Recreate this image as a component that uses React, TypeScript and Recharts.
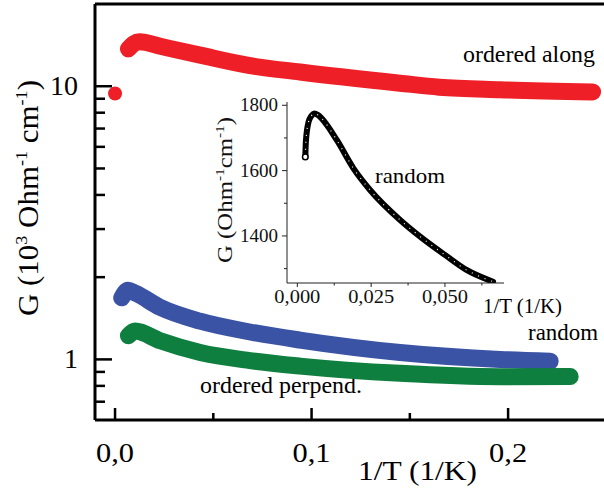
import React from 'react';
import { ComposedChart, Line, Scatter, XAxis, YAxis, ReferenceLine, Customized } from 'recharts';

// main panel: G vs 1/T, log scale
const alongX = [0.0068, 0.0095, 0.0125, 0.023, 0.0433, 0.0687, 0.0941, 0.145, 0.165, 0.196, 0.243];
const alongG = [13.7, 14.3, 14.55, 14.0, 13.0, 11.9, 11.27, 10.26, 9.92, 9.71, 9.53];
const alongFirstX = [0.0];
const alongFirstG = [9.4];

const randomX = [0.0034, 0.0066, 0.0102, 0.023, 0.0433, 0.0687, 0.0941, 0.145, 0.196, 0.2214];
const randomG = [1.68, 1.79, 1.75, 1.55, 1.38, 1.26, 1.177, 1.06, 1.0, 0.985];

const perpX = [0.0068, 0.0102, 0.023, 0.0433, 0.0687, 0.0941, 0.145, 0.196, 0.2316];
const perpG = [1.22, 1.27, 1.17, 1.06, 0.99, 0.945, 0.889, 0.864, 0.866];

const X_TICKS = [0, 0.05, 0.1, 0.15, 0.2];
const X_LABELLED = [0, 0.1, 0.2];
const Y_TICKS = [0.7, 0.8, 0.9, 1, 2, 3, 4, 5, 6, 7, 8, 9, 10];
const Y_LABELLED = [1, 10];

// inset: random sample, linear scale
const insetX = [0.0027, 0.0029, 0.0038, 0.0048, 0.0057, 0.007, 0.0083, 0.0134, 0.019, 0.0247, 0.0348, 0.0416, 0.05, 0.0573, 0.0663];
const insetG = [1642, 1690, 1749, 1768, 1775, 1770, 1759, 1693, 1607, 1540, 1449, 1398, 1342, 1296, 1260];
const INSET_X_TICKS = [0, 0.0125, 0.025, 0.0375, 0.05, 0.0625];
const INSET_X_LABELLED = [0, 0.025, 0.05];
const INSET_Y_TICKS = [1300, 1400, 1500, 1600, 1700, 1800];
const INSET_Y_LABELLED = [1400, 1600, 1800];

const RED = '#ee1f26';
const BLUE = '#3a53a4';
const GREEN = '#0f7f3f';
const FONT = 'Liberation Serif, serif';

const zip = (xs: number[], ys: number[]) => xs.map((x, i) => ({ x, y: ys[i] }));
const along = zip(alongX, alongG);
const alongFirst = zip(alongFirstX, alongFirstG);
const random = zip(randomX, randomG);
const perp = zip(perpX, perpG);
const inset = zip(insetX, insetG);
const insetFirst = [inset[0]];

const comma = (v: number, d: number) => v.toFixed(d).replace('.', ',');

const MainXTick = (p: any) => {
  const v = p.payload.value;
  const major = X_LABELLED.includes(v);
  return (
    <g>
      <line x1={p.x} x2={p.x} y1={p.y} y2={p.y - (major ? 12 : 7)} stroke="#000" strokeWidth={2.5} />
      {major && (
        <text x={p.x} y={p.y + 42} textAnchor="middle" fontSize={27} fontFamily={FONT} fill="#000"
          textLength={38} lengthAdjust="spacingAndGlyphs">{comma(v, 1)}</text>
      )}
    </g>
  );
};

const MainYTick = (p: any) => {
  const v = p.payload.value;
  const major = Y_LABELLED.includes(v);
  return (
    <g>
      <line x1={p.x} x2={p.x + (major ? 17 : 10)} y1={p.y} y2={p.y} stroke="#000" strokeWidth={2.5} />
      {major && (
        <text x={p.x - 17} y={p.y + 9} textAnchor="end" fontSize={28} fontFamily={FONT} fill="#000">{v}</text>
      )}
    </g>
  );
};

const InsetXTick = (p: any) => {
  const v = p.payload.value;
  const major = INSET_X_LABELLED.includes(v);
  return (
    <g>
      <line x1={p.x} x2={p.x} y1={p.y} y2={p.y + (major ? 4 : 2.5)} stroke="#222" strokeWidth={1} />
      {major && (
        <text x={p.x} y={p.y + 20} textAnchor="middle" fontSize={19} fontFamily={FONT} fill="#111"
          textLength={46} lengthAdjust="spacingAndGlyphs">{comma(v, 3)}</text>
      )}
    </g>
  );
};

const InsetYTick = (p: any) => {
  const v = p.payload.value;
  const major = INSET_Y_LABELLED.includes(v);
  return (
    <g>
      <line x1={p.x} x2={p.x - (major ? 5 : 3)} y1={p.y} y2={p.y} stroke="#222" strokeWidth={1} />
      {major && (
        <text x={p.x - 9} y={p.y + 6} textAnchor="end" fontSize={19} fontFamily={FONT} fill="#111"
          textLength={38} lengthAdjust="spacingAndGlyphs">{v}</text>
      )}
    </g>
  );
};

const Txt = ({ x, y, w, size, children }: any) => (
  <text x={x} y={y} fontSize={size} fontFamily={FONT} fill="#000" textLength={w} lengthAdjust="spacingAndGlyphs">
    {children}
  </text>
);

const MainLabels = () => (
  <g>
    <Txt x={463} y={62} w={132} size={23}>ordered along</Txt>
    <Txt x={528} y={340} w={70} size={23}>random</Txt>
    <Txt x={200} y={393} w={162} size={23}>ordered perpend.</Txt>
    <Txt x={358} y={480} w={119} size={28}>1/T (1/K)</Txt>
    <text x={38} y={198} transform="rotate(-90 38 198)" textAnchor="middle" fontSize={29} fontFamily={FONT} fill="#000"
      textLength={236} lengthAdjust="spacingAndGlyphs">
      G (10<tspan dy={-11} fontSize={17}>3</tspan>
      <tspan dy={11}> Ohm</tspan>
      <tspan dy={-11} fontSize={17}>-1</tspan>
      <tspan dy={11}> cm</tspan>
      <tspan dy={-11} fontSize={17}>-1</tspan>
      <tspan dy={11}>)</tspan>
    </text>
  </g>
);

const InsetLabels = () => (
  <g>
    <Txt x={175} y={93} w={70} size={21}>random</Txt>
    <Txt x={283} y={223} w={79} size={20}>1/T (1/K)</Txt>
    <text x={32} y={100} transform="rotate(-90 32 100)" textAnchor="middle" fontSize={21} fontFamily={FONT} fill="#111"
      textLength={146} lengthAdjust="spacingAndGlyphs">
      G (Ohm<tspan dy={-8} fontSize={13}>-1</tspan>
      <tspan dy={8}>cm</tspan>
      <tspan dy={-8} fontSize={13}>-1</tspan>
      <tspan dy={8}>)</tspan>
    </text>
  </g>
);

const thick = { strokeWidth: 17, strokeLinecap: 'round' as const, strokeLinejoin: 'round' as const };

export default function App() {
  return (
    <div style={{ position: 'absolute', left: 0, top: 0, width: 604, height: 490, background: '#fff', overflow: 'hidden' }}>
      <ComposedChart width={604} height={490} margin={{ top: 4, right: 0, bottom: 0, left: 0 }}>
        <XAxis type="number" dataKey="x" domain={[-0.0102, 0.2488]} allowDataOverflow ticks={X_TICKS} interval={0}
          tick={(p: any) => <MainXTick {...p} />} tickLine={false} tickSize={0} tickMargin={0} height={70}
          axisLine={{ stroke: '#000', strokeWidth: 3 }} />
        <YAxis type="number" dataKey="y" scale="log" domain={[0.6, 20]} allowDataOverflow ticks={Y_TICKS} interval={0}
          tick={(p: any) => <MainYTick {...p} />} tickLine={false} tickSize={0} tickMargin={0} width={95}
          axisLine={{ stroke: '#000', strokeWidth: 3 }} />
        <ReferenceLine y={20} stroke="#000" strokeWidth={3} />
        <Line data={along} dataKey="y" type="monotone" stroke={RED} {...thick} dot={false} isAnimationActive={false} />
        <Line data={random} dataKey="y" type="monotone" stroke={BLUE} {...thick} dot={false} isAnimationActive={false} />
        <Line data={perp} dataKey="y" type="monotone" stroke={GREEN} {...thick} dot={false} isAnimationActive={false} />
        <Scatter data={alongFirst} dataKey="y" fill={RED} isAnimationActive={false}
          shape={(p: any) => <circle cx={p.cx} cy={p.cy} r={7} fill={RED} />} />
        <Customized component={MainLabels} />
      </ComposedChart>
      <div style={{ position: 'absolute', left: 200, top: 90 }}>
        <ComposedChart width={370} height={240} margin={{ top: 12, right: 66, bottom: 0, left: 0 }}>
          <XAxis type="number" dataKey="x" domain={[-0.0035, 0.07]} allowDataOverflow ticks={INSET_X_TICKS} interval={0}
            tick={(p: any) => <InsetXTick {...p} />} tickLine={false} tickSize={0} tickMargin={0} height={47}
            axisLine={{ stroke: '#222', strokeWidth: 1 }} />
          <YAxis type="number" dataKey="y" domain={[1256, 1810]} allowDataOverflow ticks={INSET_Y_TICKS} interval={0}
            tick={(p: any) => <InsetYTick {...p} />} tickLine={false} tickSize={0} tickMargin={0} width={87}
            axisLine={{ stroke: '#222', strokeWidth: 1 }} />
          <Line data={inset} dataKey="y" type="monotone" stroke="#000" strokeWidth={6} strokeLinejoin="round"
            strokeLinecap="round" dot={false} isAnimationActive={false} />
          <Line data={inset} dataKey="y" type="monotone" stroke="#fff" strokeWidth={1.2} strokeDasharray="1 6"
            dot={false} isAnimationActive={false} />
          <Scatter data={insetFirst} dataKey="y" isAnimationActive={false}
            shape={(p: any) => <circle cx={p.cx} cy={p.cy} r={2.8} fill="#fff" stroke="#000" strokeWidth={1.5} />} />
          <Customized component={InsetLabels} />
        </ComposedChart>
      </div>
    </div>
  );
}
